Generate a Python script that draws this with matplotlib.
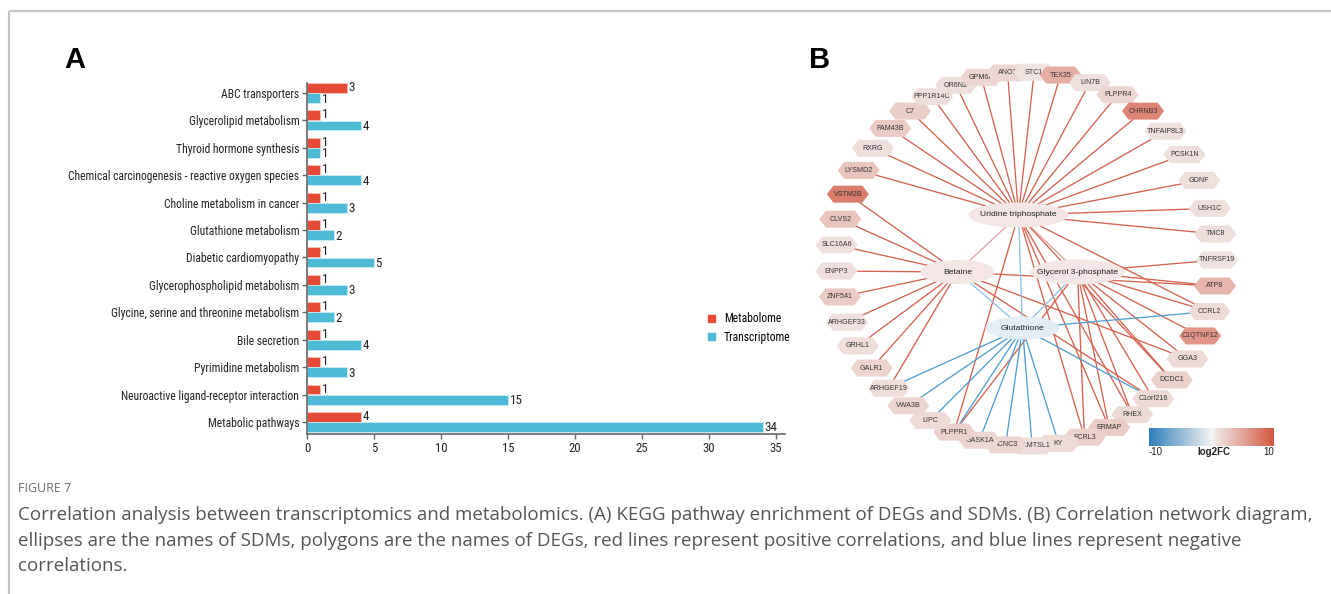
import os
import numpy as np
import matplotlib
matplotlib.use("Agg")
import matplotlib.pyplot as plt
from matplotlib.patches import Polygon, Ellipse, Patch
from matplotlib.colors import LinearSegmentedColormap
from matplotlib import font_manager as fm

# ---------------- Panel A data ----------------
pathways = ["ABC transporters", "Glycerolipid metabolism", "Thyroid hormone synthesis",
            "Chemical carcinogenesis - reactive oxygen species", "Choline metabolism in cancer",
            "Glutathione metabolism", "Diabetic cardiomyopathy", "Glycerophospholipid metabolism",
            "Glycine, serine and threonine metabolism", "Bile secretion", "Pyrimidine metabolism",
            "Neuroactive ligand-receptor interaction", "Metabolic pathways"]
metabolome = [3, 1, 1, 1, 1, 1, 1, 1, 1, 1, 1, 1, 4]
transcriptome = [1, 4, 1, 4, 3, 2, 5, 3, 2, 4, 3, 15, 34]
x_ticks = [0, 5, 10, 15, 20, 25, 30, 35]

# ---------------- Panel B data ----------------
# genes in circular-layout order (starting at 3 o'clock, clockwise)
genes = ["TNFRSF19", "ATP8", "CCRL2", "C1QTNF12", "GGA3", "DCDC1", "C1orf216", "RHEX",
         "ERMAP", "FCRL3", "KY", "ADAMTSL1", "KCNC3", "GASK1A", "PLPPR1", "LIPC", "VWA3B",
         "ARHGEF19", "GALR1", "GRHL1", "ARHGEF33", "ZNF541", "ENPP3", "SLC16A6", "CLVS2",
         "VSTM2B", "LYSMD2", "RXRG", "FAM43B", "C7", "PPP1R14C", "OR6N2", "GPM6A", "ANO1",
         "STC1", "TEX35", "LIN7B", "PLPPR4", "CHRNB3", "TNFAIP8L3", "PCSK1N", "GDNF",
         "USH1C", "TMC8"]
gene_log2fc = [1.1, 4.0, 1.5, 6.0, 1.5, 2.2, 1.5, 1.5,
               2.5, 2.2, 1.5, 1.3, 1.8, 1.8, 2.2, 1.6, 1.8,
               1.4, 2.0, 1.4, 1.2, 2.6, 1.3, 1.2, 3.0,
               7.5, 3.0, 1.3, 2.6, 2.4, 1.3, 1.3, 1.8, 1.8,
               1.0, 4.5, 1.3, 1.8, 7.0, 1.2, 1.3, 1.3,
               1.2, 1.3]
metabolites = ["Uridine triphosphate", "Betaine", "Glycerol 3-phosphate", "Glutathione"]
met_direction = ["up", "up", "up", "down"]

utp_pos = ["TMC8", "USH1C", "GDNF", "PCSK1N", "TNFAIP8L3", "CHRNB3", "PLPPR4", "LIN7B",
           "TEX35", "STC1", "ANO1", "GPM6A", "OR6N2", "PPP1R14C", "C7", "FAM43B", "RXRG",
           "LYSMD2", "CCRL2", "PLPPR1", "FCRL3", "ERMAP", "RHEX", "DCDC1"]
betaine_pos = ["VSTM2B", "CLVS2", "SLC16A6", "ENPP3", "ZNF541", "ARHGEF33", "GRHL1", "GALR1",
               "ARHGEF19", "ATP8", "GGA3", "C1orf216"]
g3p_pos = ["TNFRSF19", "ATP8", "CCRL2", "C1QTNF12", "GGA3", "DCDC1", "C1orf216", "RHEX",
           "ERMAP", "FCRL3", "PLPPR1"]
gsh_neg = ["CCRL2", "ARHGEF19", "VWA3B", "LIPC", "PLPPR1", "GASK1A", "KCNC3", "ADAMTSL1",
           "KY", "C1orf216"]
met_links = [("Uridine triphosphate", "Betaine", 1), ("Uridine triphosphate", "Glutathione", -1),
             ("Betaine", "Glutathione", -1), ("Glycerol 3-phosphate", "Glutathione", -1),
             ("Uridine triphosphate", "Glycerol 3-phosphate", 1)]

caption_title = "FIGURE 7"
caption_lines = [
    "Correlation analysis between transcriptomics and metabolomics. (A) KEGG pathway enrichment of DEGs and SDMs. (B) Correlation network diagram,",
    "ellipses are the names of SDMs, polygons are the names of DEGs, red lines represent positive correlations, and blue lines represent negative",
    "correlations.",
]

# ---------------- fonts ----------------
def find_narrow():
    files = [f.fname for f in fm.fontManager.ttflist]
    prefs = ["liberationsansnarrow-regular", "robotocondensed-regular", "dejavusanscondensed.",
             "opensanscondensed-regular", "opensans_condensed-regular", "notosansdisplay-condensed",
             "notosans-condensed."]
    for p in prefs:
        for f in files:
            if os.path.basename(f).lower().startswith(p):
                return f
    for f in files:
        b = os.path.basename(f).lower()
        if ("narrow" in b or "condensed" in b) and "bold" not in b and "italic" not in b \
                and "light" not in b and "oblique" not in b:
            return f
    return None

narrow_file = find_narrow()
if narrow_file:
    base_prop = fm.FontProperties(fname=narrow_file)
else:
    base_prop = fm.FontProperties(family=["Liberation Sans", "DejaVu Sans"])

# ---------------- styling ----------------
W, H = 1331, 594
RED = "#E64B35"
BLUE = "#4DBBD5"
ARIAL = ["Liberation Sans", "DejaVu Sans"]

fig = plt.figure(figsize=(W / 100, H / 100), dpi=100)
renderer = fig.canvas.get_renderer()


def fit_size(s, prop, target_px):
    p = prop.copy()
    p.set_size(10)
    w, _, _ = renderer.get_text_width_height_descent(s, p, ismath=False)
    return 10 * target_px / w


labsize = min(fit_size(pathways[3], base_prop, 232), 9.0)
tick_prop = base_prop.copy()
tick_prop.set_size(labsize)
num_prop = base_prop.copy()
num_prop.set_size(labsize * 1.12)
xt_prop = base_prop.copy()
xt_prop.set_size(labsize * 1.08)

# ---------------- Panel A ----------------
axA = fig.add_axes([307 / W, 1 - 434 / H, (785 - 307) / W, (434 - 83) / H])
y = np.arange(len(pathways))
bh = 0.36
axA.barh(y - 0.185, metabolome, height=bh, color=RED, edgecolor="#f5c2ba", linewidth=0.6)
axA.barh(y + 0.185, transcriptome, height=bh, color=BLUE, edgecolor="#c9ecf4", linewidth=0.6)
for yi, v in zip(y, metabolome):
    axA.text(v + 0.12, yi - 0.2, str(v), va="center", ha="left", fontproperties=num_prop,
             color="#222222")
for yi, v in zip(y, transcriptome):
    axA.text(v + 0.12, yi + 0.22, str(v), va="center", ha="left", fontproperties=num_prop,
             color="#222222")
axA.set_xlim(0, 35.67)
axA.set_ylim(12.44, -0.365)
axA.set_yticks(y)
axA.set_yticklabels(pathways, fontproperties=tick_prop, color="#222222")
axA.set_xticks(x_ticks)
axA.set_xticklabels([str(t) for t in x_ticks], fontproperties=xt_prop, color="#222222")
for s in ["top", "right"]:
    axA.spines[s].set_visible(False)
for s in ["left", "bottom"]:
    axA.spines[s].set_color("#666666")
    axA.spines[s].set_linewidth(1.2)
axA.tick_params(axis="both", length=3.5, width=1.0, color="#666666", pad=2)
axA.set_facecolor("none")
axA.legend(handles=[Patch(color=RED, label="Metabolome"), Patch(color=BLUE, label="Transcriptome")],
           loc="center left", bbox_to_anchor=(697 / W, 1 - 328 / H),
           bbox_transform=fig.transFigure, frameon=False, handlelength=0.6,
           handleheight=0.6, handletextpad=0.8, labelspacing=0.45, prop=tick_prop)

# ---------------- overlay axes (panel B, letters, caption, frame) ----------------
ov = fig.add_axes([0, 0, 1, 1], zorder=5)
ov.set_xlim(0, W)
ov.set_ylim(H, 0)
ov.axis("off")

ov.plot([9, W], [11, 11], color="#c4c4c4", lw=1.6, solid_capstyle="butt")
ov.plot([9, 9], [11, H], color="#c4c4c4", lw=1.6, solid_capstyle="butt")

ov.text(64, 60, "A", fontsize=21, fontweight="bold", family=ARIAL, va="center", ha="left")
ov.text(809, 60, "B", fontsize=21, fontweight="bold", family=ARIAL, va="center", ha="left")

# circular layout: 45 slots; the arc TEX35 -> USH1C is spread over one extra slot
cx, cy, rx, ry = 1026.5, 259.0, 190.5, 187.0
n_slots = len(genes) + 1
i_a, i_b = genes.index("TEX35"), genes.index("USH1C")
steps = np.ones(len(genes))
steps[0] = 0.0
steps[i_a + 1:i_b + 1] = (i_b - i_a + 1) / (i_b - i_a)
slots = np.cumsum(steps)
phi = np.deg2rad(0.3) + 2 * np.pi * slots / n_slots
gpos = {g: (cx + rx * np.cos(p), cy + ry * np.sin(p)) for g, p in zip(genes, phi)}
met_offsets = [(-8, -44), (-69, 13), (51, 13), (-4, 69)]
mpos = {m: (cx + dx, cy + dy) for m, (dx, dy) in zip(metabolites, met_offsets)}
met_size = {"Uridine triphosphate": (100, 25), "Betaine": (74, 24),
            "Glycerol 3-phosphate": (94, 25), "Glutathione": (74, 23)}

EDGE_RED = "#d5624f"
EDGE_BLUE = "#4f9fd3"
lw_e = 0.95
for met, glist, col in [("Uridine triphosphate", utp_pos, EDGE_RED), ("Betaine", betaine_pos, EDGE_RED),
                        ("Glycerol 3-phosphate", g3p_pos, EDGE_RED), ("Glutathione", gsh_neg, EDGE_BLUE)]:
    for g in glist:
        (x1, y1), (x2, y2) = gpos[g], mpos[met]
        ov.plot([x1, x2], [y1, y2], color=col, lw=lw_e, zorder=1)
for a, b, s in met_links:
    (x1, y1), (x2, y2) = mpos[a], mpos[b]
    col = "#e6a59b" if s > 0 else "#8dc3e6"
    ov.plot([x1, x2], [y1, y2], color=col, lw=lw_e, zorder=1)

cmap = LinearSegmentedColormap.from_list("fc", ["#2f7fba", "#f3f3f3", "#d3573f"])
hw, hh, hp = 21, 8.5, 6.5
for i, (g, fc) in enumerate(zip(genes, gene_log2fc)):
    x, yv = gpos[g]
    verts = [(x - hw, yv), (x - hw + hp, yv - hh), (x + hw - hp, yv - hh),
             (x + hw, yv), (x + hw - hp, yv + hh), (x - hw + hp, yv + hh)]
    col = cmap((fc + 10) / 20)
    ov.add_patch(Polygon(verts, closed=True, facecolor=col, edgecolor="none", zorder=10 + 2 * i))
    ov.text(x, yv, g, fontsize=5.1, family=ARIAL, color="#333333", ha="center", va="center",
            zorder=11 + 2 * i)

for m, d in zip(metabolites, met_direction):
    x, yv = mpos[m]
    wv, hv = met_size[m]
    fcol = "#f3e6e4" if d == "up" else "#e5edf4"
    ov.add_patch(Ellipse((x, yv), wv, hv, facecolor=fcol, edgecolor="none", zorder=200))
    ov.text(x, yv, m, fontsize=6.1, family=ARIAL, color="#222222", ha="center", va="center",
            zorder=201)

# colorbar
grad = np.linspace(-10, 10, 256).reshape(1, -1)
ov.imshow(grad, cmap=cmap, vmin=-10, vmax=10, extent=[1149, 1274, 446, 428], aspect="auto",
          zorder=300)
ov.text(1149, 452, "-10", fontsize=7, family=ARIAL, ha="left", va="center", color="#222222")
ov.text(1214, 452, "log2FC", fontsize=7, fontweight="bold", family=ARIAL, ha="center",
        va="center", color="#222222")
ov.text(1274, 452, "10", fontsize=7, family=ARIAL, ha="right", va="center", color="#222222")
ov.set_xlim(0, W)
ov.set_ylim(H, 0)

# caption
cap_prop = fm.FontProperties(family=["Open Sans", "DejaVu Sans"])
cap_size = fit_size(caption_lines[0], cap_prop, 1295)
ov.text(18, 488, caption_title, fontsize=9.0, family=["Open Sans", "DejaVu Sans"],
        color="#6b6b6b", ha="left", va="center")
for k, line in enumerate(caption_lines):
    ov.text(18, 515 + 25.7 * k, line, fontsize=cap_size, family=["Open Sans", "DejaVu Sans"],
            color="#555555", ha="left", va="center")

fig.savefig("out.png", dpi=100)
